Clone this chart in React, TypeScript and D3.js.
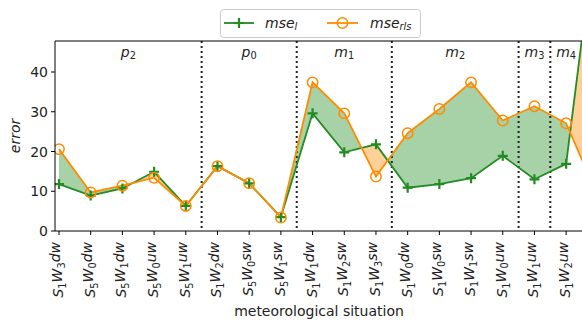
import * as d3 from 'd3'

// x categories (meteorological situations), last one lies beyond the cropped edge
const situations = [
  'S1W3dw', 'S5W0dw', 'S5W1dw', 'S5W0uw', 'S5W1uw',
  'S1W2dw', 'S5W0sw', 'S5W1sw',
  'S1W1dw', 'S1W2sw', 'S1W3sw',
  'S1W0dw', 'S1W0sw', 'S1W1sw', 'S1W0uw',
  'S1W1uw',
  'S1W2uw', 'S1W3uw',
]

const mseL = [11.8, 8.9, 10.7, 14.9, 6.3, 16.3, 12.0, 3.5, 29.6, 19.8, 21.8, 10.9, 11.8, 13.3, 18.9, 13.0, 16.9, 80.0]
const mseRls = [20.6, 9.7, 11.4, 13.4, 6.3, 16.3, 12.0, 3.4, 37.4, 29.6, 13.7, 24.6, 30.7, 37.4, 27.8, 31.4, 27.1, 8.8]

const groupNames = [['p', '2'], ['p', '0'], ['m', '1'], ['m', '2'], ['m', '3'], ['m', '4']]
const dividers = [4.5, 7.5, 10.5, 14.5, 15.5]
const yTicks = [0, 10, 20, 30, 40]

const GREEN = 'forestgreen'
const ORANGE = 'darkorange'
const FONT = 'DejaVu Sans'

function SubLabel({ base, sub, italicSub = false }: { base: string; sub: string; italicSub?: boolean }) {
  return (
    <>
      <tspan fontStyle="italic">{base}</tspan>
      <tspan fontSize="0.7em" dy="0.25em" fontStyle={italicSub ? 'italic' : 'normal'}>
        {sub}
      </tspan>
    </>
  )
}

function Situation({ label }: { label: string }) {
  const m = /^S(\d)W(\d)(\w+)$/.exec(label)
  if (!m) return <>{label}</>
  return (
    <>
      <tspan fontStyle="italic">S</tspan>
      <tspan fontSize="0.7em" dy="0.3em">{m[1]}</tspan>
      <tspan fontStyle="italic" dy="-0.3em">W</tspan>
      <tspan fontSize="0.7em" dy="0.3em">{m[2]}</tspan>
      <tspan fontStyle="italic" dy="-0.3em">{m[3]}</tspan>
    </>
  )
}

export default function App() {
  const width = 582
  const height = 322
  const left = 55
  const right = 582
  const top = 41
  const bottom = 231

  const x = d3.scaleLinear().domain([-0.126, 16.5]).range([left, right])
  const y = d3.scaleLinear().domain([0, 47.8]).range([bottom, top])

  const line = d3
    .line<number>()
    .x((_, i) => x(i))
    .y((v) => y(v))

  // fill between the two curves, coloured by which one is larger
  let greenPath = ''
  let orangePath = ''
  const poly = (pts: [number, number][]) =>
    'M' + pts.map(([a, b]) => `${x(a)},${y(b)}`).join('L') + 'Z'
  for (let i = 0; i < mseL.length - 1; i++) {
    const d0 = mseRls[i] - mseL[i]
    const d1 = mseRls[i + 1] - mseL[i + 1]
    if (d0 * d1 >= 0) {
      const p = poly([
        [i, mseL[i]],
        [i + 1, mseL[i + 1]],
        [i + 1, mseRls[i + 1]],
        [i, mseRls[i]],
      ])
      if (d0 + d1 >= 0) greenPath += p
      else orangePath += p
    } else {
      const t = d0 / (d0 - d1)
      const xc = i + t
      const yc = mseL[i] + t * (mseL[i + 1] - mseL[i])
      const a = poly([[i, mseL[i]], [xc, yc], [i, mseRls[i]]])
      const b = poly([[xc, yc], [i + 1, mseL[i + 1]], [i + 1, mseRls[i + 1]]])
      if (d0 > 0) {
        greenPath += a
        orangePath += b
      } else {
        orangePath += a
        greenPath += b
      }
    }
  }

  const bounds = [x.domain()[0], ...dividers, x.domain()[1]]

  return (
    <>
      <style>{`body{margin:0}`}</style>
      <svg width={width} height={height} style={{ display: 'block', fontFamily: FONT }}>
        <defs>
          <clipPath id="plot">
            <rect x={left} y={top} width={right - left} height={bottom - top} />
          </clipPath>
        </defs>

        <g clipPath="url(#plot)">
          <path d={greenPath} fill={GREEN} fillOpacity={0.4} />
          <path d={orangePath} fill={ORANGE} fillOpacity={0.4} />

          {dividers.map((d) => (
            <line key={d} x1={x(d)} x2={x(d)} y1={top} y2={bottom} stroke="#222" strokeWidth={2} strokeDasharray="2 3" />
          ))}

          <path d={line(mseL) ?? ''} fill="none" stroke={GREEN} strokeWidth={1.8} />
          <path d={line(mseRls) ?? ''} fill="none" stroke={ORANGE} strokeWidth={1.8} />

          {mseL.map((v, i) => (
            <path
              key={`g${i}`}
              d={`M${x(i) - 5},${y(v)}h10M${x(i)},${y(v) - 5}v10`}
              stroke={GREEN}
              strokeWidth={2.2}
            />
          ))}
          {mseRls.map((v, i) => (
            <circle key={`o${i}`} cx={x(i)} cy={y(v)} r={5.2} fill="none" stroke={ORANGE} strokeWidth={1.5} />
          ))}
        </g>

        {/* group labels */}
        {groupNames.map(([b, s], i) => (
          <text key={b + s} x={x((bounds[i] + bounds[i + 1]) / 2)} y={57} textAnchor="middle" fontSize={14} fill="#222">
            <SubLabel base={b} sub={s} />
          </text>
        ))}

        {/* axes frame */}
        <line x1={left} x2={left} y1={top} y2={bottom} stroke="#000" strokeWidth={1} />
        <line x1={left} x2={right} y1={bottom} y2={bottom} stroke="#000" strokeWidth={1} />
        <line x1={left} x2={right} y1={top} y2={top} stroke="#000" strokeWidth={1} />

        {yTicks.map((t) => (
          <g key={t} transform={`translate(0,${y(t)})`}>
            <line x1={left - 4} x2={left} stroke="#000" />
            <text x={left - 7} y={5} textAnchor="end" fontSize={14} fill="#222">
              {t}
            </text>
          </g>
        ))}

        {situations.map((s, i) =>
          x(i) > right ? null : (
            <g key={s + i} transform={`translate(${x(i)},${bottom})`}>
              <line y1={0} y2={4} stroke="#000" />
              <text transform="translate(4,11) rotate(-90)" textAnchor="end" fontSize={14} fill="#222">
                <Situation label={s} />
              </text>
            </g>
          ),
        )}

        <text x={319} y={316} textAnchor="middle" fontSize={14} fill="#222">
          meteorological situation
        </text>
        <text transform={`translate(20,${(top + bottom) / 2}) rotate(-90)`} textAnchor="middle" fontSize={14} fontStyle="italic" fill="#222">
          error
        </text>

        {/* legend */}
        <g>
          <rect x={220.5} y={9.5} width={200} height={28} rx={3} fill="#fff" fillOpacity={0.8} stroke="#ccc" />
          <line x1={224} x2={254} y1={23} y2={23} stroke={GREEN} strokeWidth={1.8} />
          <path d="M234,23h10M239,18v10" stroke={GREEN} strokeWidth={2.2} />
          <text x={265} y={28} fontSize={14} fill="#222">
            <SubLabel base="mse" sub="l" italicSub />
          </text>
          <line x1={327} x2={358} y1={23} y2={23} stroke={ORANGE} strokeWidth={1.8} />
          <circle cx={342.5} cy={23} r={5.2} fill="none" stroke={ORANGE} strokeWidth={1.5} />
          <text x={370} y={28} fontSize={14} fill="#222">
            <SubLabel base="mse" sub="rls" italicSub />
          </text>
        </g>
      </svg>
    </>
  )
}
